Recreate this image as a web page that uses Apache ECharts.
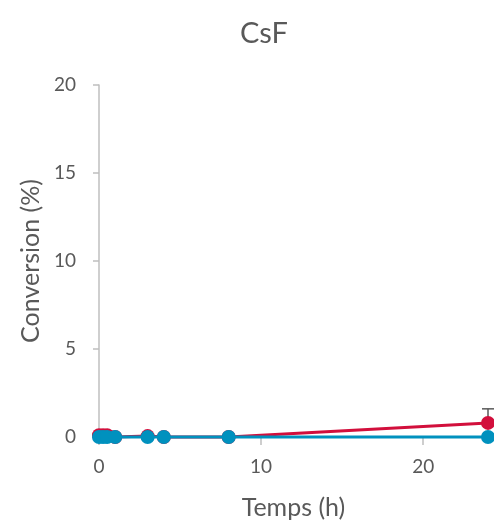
<!DOCTYPE html>
<html><head><meta charset="utf-8">
<script src="https://cdn.jsdelivr.net/npm/echarts@6/dist/echarts.min.js"></script>
<style>html,body{margin:0;padding:0;background:#fff}#c{width:494px;height:525px}</style>
</head><body><div id="c"></div>
<script>
var times = [0, 0.25, 0.5, 1, 3, 4, 8, 24];
var redValues = [0.1, 0.1, 0.1, 0, 0.05, 0, 0, 0.8];
var redErrors = [0, 0, 0, 0, 0, 0, 0, 0.8];
var blueValues = [0, 0, 0, 0, 0, 0, 0, 0];
var yTicks = [0, 5, 10, 15, 20];
var xTicks = [0, 10, 20];
var titleText = 'CsF';
var xName = 'Temps (h)';
var yName = 'Conversion (%)';

var font = 'Lato, "Open Sans", sans-serif';
var gray = '#595959';
function pairs(xs, ys){ return xs.map(function(x,i){return [x, ys[i]];}); }
var errData = times.map(function(t,i){ return [t, redValues[i], redValues[i] + redErrors[i]]; }).filter(function(d){return d[2] > d[1];});

var chart = echarts.init(document.getElementById('c'));
chart.setOption({
  animation: false,
  title: { text: titleText, left: 235, top: 14, textStyle: { fontFamily: font, fontSize: 29, fontWeight: 'normal', color: gray } },
  grid: { left: 99, right: 6, top: 85, bottom: 88, containLabel: false },
  xAxis: {
    type: 'value', min: 0, max: 24, interval: 10,
    name: xName, nameLocation: 'middle', nameGap: 58,
    nameTextStyle: { fontFamily: font, fontSize: 25, color: gray },
    axisLine: { show: true, lineStyle: { color: '#bfbfbf', width: 1.5 } },
    axisTick: { show: true, length: 8, lineStyle: { color: '#bfbfbf', width: 1.5 } },
    axisLabel: { fontFamily: font, fontSize: 19, color: gray, margin: 20, showMaxLabel: false,
      formatter: function(v){ return xTicks.indexOf(v) >= 0 ? String(v) : ''; } },
    splitLine: { show: false }
  },
  yAxis: {
    type: 'value', min: 0, max: 20, interval: 5,
    name: yName, nameLocation: 'middle', nameGap: 56,
    nameTextStyle: { fontFamily: font, fontSize: 25, color: gray },
    axisLine: { show: true, lineStyle: { color: '#bfbfbf', width: 1.5 } },
    axisTick: { show: true, length: 6, lineStyle: { color: '#bfbfbf', width: 1.5 } },
    axisLabel: { fontFamily: font, fontSize: 19, color: gray, margin: 23,
      formatter: function(v){ return yTicks.indexOf(v) >= 0 ? String(v) : ''; } },
    splitLine: { show: false }
  },
  series: [
    {
      type: 'custom', z: 1,
      renderItem: function(params, api){
        var p1 = api.coord([api.value(0), api.value(1)]);
        var p2 = api.coord([api.value(0), api.value(2)]);
        return { type: 'group', children: [
          { type: 'line', shape: { x1: p1[0], y1: p1[1], x2: p2[0], y2: p2[1] }, style: { stroke: '#595959', lineWidth: 1.5 } },
          { type: 'line', shape: { x1: p2[0]-6, y1: p2[1], x2: p2[0]+6, y2: p2[1] }, style: { stroke: '#595959', lineWidth: 1.5 } }
        ]};
      },
      data: errData, clip: false
    },
    {
      type: 'line', data: pairs(times, redValues), z: 2,
      symbol: 'circle', symbolSize: 14, clip: false,
      lineStyle: { color: '#d20f3c', width: 3 },
      itemStyle: { color: '#d20f3c' }
    },
    {
      type: 'line', data: pairs(times, blueValues), z: 3,
      symbol: 'circle', symbolSize: 14, clip: false,
      lineStyle: { color: '#0091be', width: 3 },
      itemStyle: { color: '#0091be' }
    }
  ]
});
</script></body></html>
